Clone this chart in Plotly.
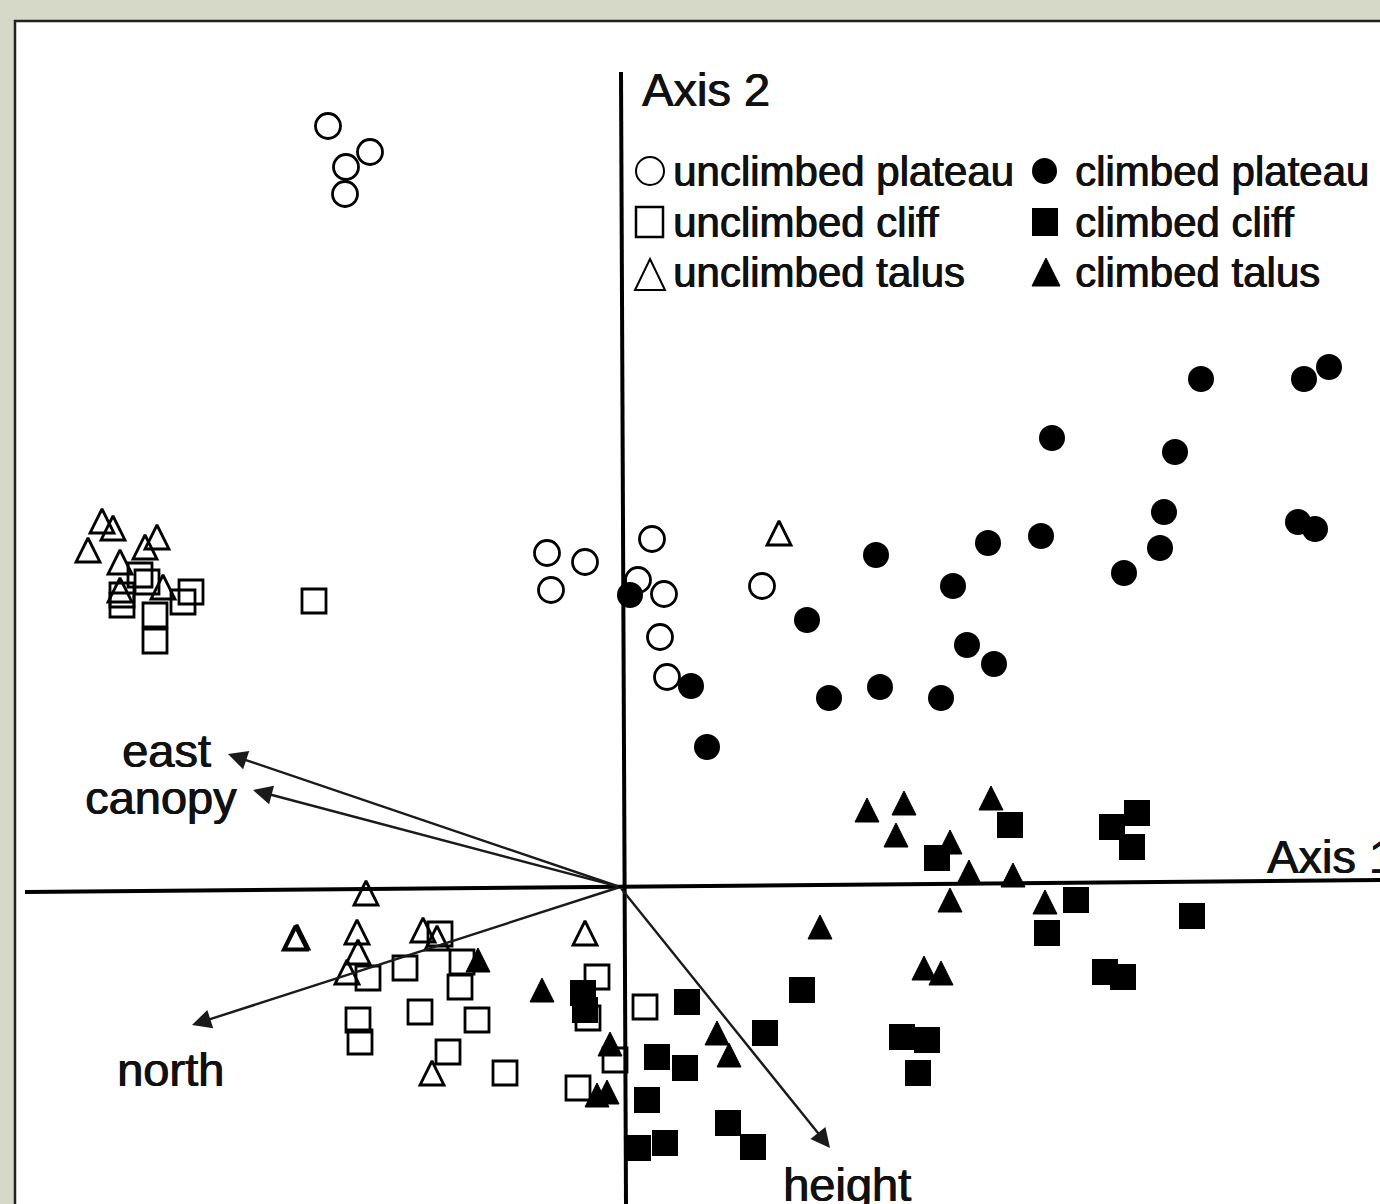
import plotly.graph_objects as go

# ---------------- data: ordination scores (Axis 1, Axis 2) ----------------
unclimbed_plateau_x = [-1.46, -1.25, -1.37, -1.375, -0.365, -0.175, -0.345, 0.16, 0.09, 0.22, 0.20, 0.235, 0.71]
unclimbed_plateau_y = [3.805, 3.675, 3.60, 3.465, 1.67, 1.625, 1.485, 1.74, 1.535, 1.465, 1.25, 1.05, 1.505]

climbed_plateau_x = [0.05, 0.355, 0.435, 0.935, 1.045, 1.28, 1.30, 1.605, 1.665, 1.735, 1.87, 1.84,
                     2.105, 2.16, 2.52, 2.70, 2.72, 2.775, 2.905, 3.42, 3.545, 3.39, 3.475]
climbed_plateau_y = [1.46, 1.005, 0.70, 1.335, 0.945, 1.66, 1.00, 0.945, 1.505, 1.21, 1.115, 1.72,
                     1.755, 2.245, 1.57, 1.695, 1.875, 2.175, 2.54, 2.54, 2.60, 1.825, 1.79]

unclimbed_cliff_x = [-2.40, -2.365, -2.49, -2.49, -2.145, -2.185, -2.325, -2.325, -1.53,
                     -0.90, -1.075, -1.26, -0.80, -0.79, -1.00, -0.715, -1.31, -1.30, -0.86,
                     -0.575, -0.21, -0.115, -0.16, -0.025, 0.125]
unclimbed_cliff_y = [1.56, 1.525, 1.46, 1.41, 1.475, 1.425, 1.36, 1.23, 1.43,
                     -0.235, -0.405, -0.455, -0.50, -0.375, -0.625, -0.665, -0.665, -0.775, -0.825,
                     -0.93, -1.005, -0.45, -0.655, -0.865, -0.60]

climbed_cliff_x = [-0.185, -0.175, 0.335, 0.91, 0.725, 0.185, 0.325, 0.135, 0.09, 0.225, 0.54, 0.665,
                   1.95, 1.585, 2.46, 2.585, 2.56, 2.28, 2.135, 2.86, 2.425, 2.515, 1.41, 1.535, 1.49]
climbed_cliff_y = [-0.53, -0.615, -0.575, -0.515, -0.73, -0.85, -0.905, -1.065, -1.305, -1.28, -1.18, -1.30,
                   0.31, 0.145, 0.30, 0.37, 0.20, -0.065, -0.23, -0.145, -0.425, -0.45, -0.75, -0.765, -0.93]

unclimbed_talus_x = [-2.59, -2.535, -2.66, -2.315, -2.375, -2.50, -2.50, -2.285, 0.795,
                     -1.27, -1.625, -1.615, -1.315, -1.31, -1.365, -0.985, -0.915, -0.175, -0.94]
unclimbed_talus_y = [1.83, 1.795, 1.685, 1.75, 1.70, 1.625, 1.485, 1.50, 1.77,
                     -0.03, -0.255, -0.25, -0.225, -0.325, -0.425, -0.215, -0.255, -0.23, -0.93]

climbed_talus_x = [-0.71, -0.39, -0.05, -0.115, -0.065, 0.485, 0.545, 1.235, 1.42, 1.38, 1.855,
                   1.65, 1.745, 1.965, 1.65, 2.125, 1.00, 1.52, 1.605]
climbed_talus_y = [-0.365, -0.515, -0.785, -1.04, -1.025, -0.73, -0.84, 0.385, 0.42, 0.26, 0.445,
                   0.225, 0.075, 0.06, -0.065, -0.075, -0.20, -0.405, -0.43]

# environmental vectors (biplot arrows)
vector_names = ["east", "canopy", "north", "height"]
vector_x = [-1.96, -1.835, -2.14, 1.05]
vector_y = [0.665, 0.485, -0.69, -1.305]

legend_left = ["unclimbed plateau", "unclimbed cliff", "unclimbed talus"]
legend_right = ["climbed plateau", "climbed cliff", "climbed talus"]
axis_titles = ["Axis 1", "Axis 2"]

# ---------------- layout constants ----------------
W, H = 1380, 1204
X_RANGE = [-3.10, 3.80]
Y_RANGE = [-1.585, 4.435]
TRI_SHIFT = 0.06          # half a triangle height, in axis units
FONT = "Liberation Sans, Arial, Helvetica, sans-serif"
INK = "#111111"
SHADOW = "0.7px 0px 0px #111111, -0.3px 0px 0px #111111"


def px(x):
    return x / W


def py(y):
    return 1 - y / H


def tfont(size):
    return dict(family=FONT, size=size, color=INK, shadow=SHADOW)


fig = go.Figure()

open_line = dict(color="black", width=2.8)

fig.add_trace(go.Scatter(x=unclimbed_plateau_x, y=unclimbed_plateau_y, mode="markers",
                         marker=dict(symbol="circle-open", size=25, line=open_line, color="black")))
fig.add_trace(go.Scatter(x=unclimbed_cliff_x, y=unclimbed_cliff_y, mode="markers",
                         marker=dict(symbol="square-open", size=24, line=open_line, color="black")))
fig.add_trace(go.Scatter(x=unclimbed_talus_x, y=unclimbed_talus_y, mode="markers", yaxis="y2",
                         marker=dict(symbol="arrow-up-open", size=24, line=open_line, color="black")))
fig.add_trace(go.Scatter(x=climbed_plateau_x, y=climbed_plateau_y, mode="markers",
                         marker=dict(symbol="circle", size=26, color="black", line=dict(width=0))))
fig.add_trace(go.Scatter(x=climbed_cliff_x, y=climbed_cliff_y, mode="markers",
                         marker=dict(symbol="square", size=26, color="black", line=dict(width=0))))
fig.add_trace(go.Scatter(x=climbed_talus_x, y=climbed_talus_y, mode="markers", yaxis="y2",
                         marker=dict(symbol="arrow-up", size=24, color="black",
                                     line=dict(color="black", width=1))))

shapes = []
# white panel with dark frame
shapes.append(dict(type="rect", xref="paper", yref="paper", x0=px(15), x1=px(1400), y0=py(1230), y1=py(21),
                   fillcolor="white", line=dict(color="#222222", width=2.5), layer="below"))
# ordination axes (slightly tilted as in the scan)
shapes.append(dict(type="line", xref="paper", yref="paper", x0=px(25), y0=py(892), x1=px(1380), y1=py(880),
                   line=dict(color="black", width=4), layer="below"))
shapes.append(dict(type="line", xref="paper", yref="paper", x0=px(621), y0=py(72), x1=px(626), y1=py(1204),
                   line=dict(color="black", width=4), layer="below"))

# legend keys
row_y = [171, 222, 273]
lk = dict(xref="paper", yref="paper", layer="above")
shapes.append(dict(type="circle", x0=px(636), x1=px(664), y0=py(185), y1=py(157),
                   line=dict(color="black", width=2), **lk))
shapes.append(dict(type="rect", x0=px(636), x1=px(663), y0=py(237), y1=py(207),
                   line=dict(color="black", width=2.5), **lk))
shapes.append(dict(type="path",
                   path=f"M {px(650)},{py(259)} L {px(665)},{py(290)} L {px(635)},{py(290)} Z",
                   line=dict(color="black", width=2), **lk))
shapes.append(dict(type="circle", x0=px(1032), x1=px(1057), y0=py(184), y1=py(158),
                   fillcolor="black", line=dict(color="black", width=0), **lk))
shapes.append(dict(type="rect", x0=px(1032), x1=px(1058), y0=py(236), y1=py(208),
                   fillcolor="black", line=dict(color="black", width=0), **lk))
shapes.append(dict(type="path",
                   path=f"M {px(1046)},{py(258)} L {px(1060)},{py(286)} L {px(1032)},{py(286)} Z",
                   fillcolor="black", line=dict(color="black", width=1), **lk))

annotations = []
# biplot arrows from origin
for vx, vy in zip(vector_x, vector_y):
    annotations.append(dict(x=vx, y=vy, ax=0, ay=0, xref="x", yref="y", axref="x", ayref="y",
                            text="", showarrow=True, arrowhead=2, arrowsize=1.6, arrowwidth=2.4,
                            arrowcolor="#1a1a1a", standoff=0))
label_shift = {"east": (-62, 4), "canopy": (-92, -7), "north": (-22, -44), "height": (17, -36)}
for name, vx, vy in zip(vector_names, vector_x, vector_y):
    dx, dy = label_shift[name]
    annotations.append(dict(x=vx, y=vy, xref="x", yref="y", text=name, showarrow=False,
                            xshift=dx, yshift=dy, xanchor="center", yanchor="middle",
                            font=tfont(47)))

# axis titles
annotations.append(dict(x=px(1265), y=py(856), xref="paper", yref="paper", text=axis_titles[0],
                        showarrow=False, xanchor="left", yanchor="middle", font=tfont(47)))
annotations.append(dict(x=px(640), y=py(90), xref="paper", yref="paper", text=axis_titles[1],
                        showarrow=False, xanchor="left", yanchor="middle", font=tfont(47)))

# legend text
for lab, ry in zip(legend_left, row_y):
    annotations.append(dict(x=px(671), y=py(ry), xref="paper", yref="paper", text=lab,
                            showarrow=False, xanchor="left", yanchor="middle", font=tfont(42)))
for lab, ry in zip(legend_right, row_y):
    annotations.append(dict(x=px(1073), y=py(ry), xref="paper", yref="paper", text=lab,
                            showarrow=False, xanchor="left", yanchor="middle", font=tfont(42)))

fig.update_layout(
    width=W, height=H,
    margin=dict(l=0, r=0, t=0, b=0, pad=0),
    paper_bgcolor="#d6d9c8",
    plot_bgcolor="rgba(0,0,0,0)",
    showlegend=False,
    xaxis=dict(range=X_RANGE, visible=False, fixedrange=True),
    yaxis=dict(range=Y_RANGE, visible=False, fixedrange=True),
    yaxis2=dict(range=[Y_RANGE[0] - TRI_SHIFT, Y_RANGE[1] - TRI_SHIFT], overlaying="y",
                visible=False, fixedrange=True),
    shapes=shapes,
    annotations=annotations,
)

fig.write_html("out.html", config={"displayModeBar": False},
               post_script="document.body.style.margin='0px';document.body.style.overflow='hidden';")
